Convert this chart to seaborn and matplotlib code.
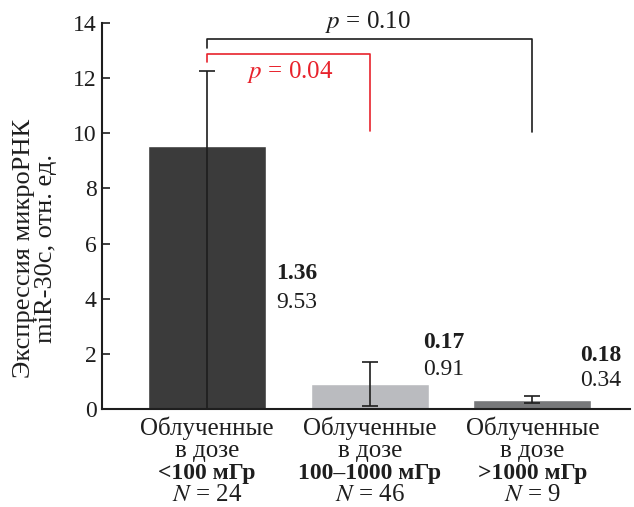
import matplotlib
matplotlib.use('Agg')
import matplotlib.pyplot as plt
import seaborn as sns
import pandas as pd

sns.set_theme(style='white')
plt.rcParams['font.family'] = ['Liberation Serif', 'DejaVu Serif']
plt.rcParams['mathtext.fontset'] = 'stix'

# data
groups = ['<100 мГр', '100–1000 мГр', '>1000 мГр']
means = [9.53, 0.91, 0.34]
medians = [1.36, 0.17, 0.18]
err_low = [9.53, 0.80, 0.13]
err_high = [2.73, 0.78, 0.13]
n_obs = [24, 46, 9]
colors = ['#3b3b3b', '#babbbf', '#77787a']
comparisons = [(0, 2, '0.10'), (0, 1, '0.04')]

df = pd.DataFrame({'group': groups, 'mean': means})

fig = plt.figure(figsize=(6.34, 5.07), dpi=100)
ax = fig.add_axes([102/634, 1 - 409/507, 528/634, 386/507])
sns.barplot(data=df, x='group', y='mean', hue='group', palette=colors,
            width=0.726, legend=False, ax=ax, saturation=1)
ax.errorbar(x=range(len(groups)), y=means, yerr=[err_low, err_high], fmt='none',
            ecolor='#1e1e1e', elinewidth=1.2, capsize=6, capthick=1.2, clip_on=False, zorder=3)

ax.set_xlim(-0.646, 2.6)
ax.set_ylim(0, 14)
ax.set_yticks(range(0, 15, 2))
ax.tick_params(axis='y', direction='in', length=6, width=1.2, labelsize=17, pad=4,
               colors='#1e1e1e', left=True)
ax.tick_params(axis='x', length=0, labelbottom=False)
ax.set_xlabel('')
sns.despine(ax=ax)
for s in ['left', 'bottom']:
    ax.spines[s].set_linewidth(1.5)
    ax.spines[s].set_color('#1e1e1e')

ax.set_ylabel('Экспрессия микроРНК\nmiR-30c, отн. ед.', fontsize=19, color='#1e1e1e',
              linespacing=1.0)
ax.yaxis.set_label_coords(-0.085, 0.417)

# x labels, four lines each
line_off = [-13.5, -30.0, -46.3, -62.0]
for i, g in enumerate(groups):
    lines = [('Облученные', 'normal', 18), ('в дозе', 'normal', 18), (g, 'bold', 17),
             (f'$N$ = {n_obs[i]}', 'normal', 18)]
    for (txt, w, fs), off in zip(lines, line_off):
        ax.annotate(txt, xy=(i, 0), xycoords=('data', 'axes fraction'),
                    xytext=(0, off), textcoords='offset points', ha='center', va='center',
                    fontsize=fs, fontweight=w, color='#1e1e1e', annotation_clip=False)

# value labels
lab_dx = [0.425, 0.33, 0.295]
lab_y1 = [4.92, 2.42, 1.94]
lab_y2 = [3.85, 1.43, 1.03]
for i in range(len(groups)):
    ax.text(i + lab_dx[i], lab_y1[i], f'{medians[i]:.2f}', fontsize=17, fontweight='bold',
            ha='left', va='center', color='#1e1e1e')
    ax.text(i + lab_dx[i], lab_y2[i], f'{means[i]:.2f}', fontsize=17,
            ha='left', va='center', color='#1e1e1e')

# significance brackets
br_top = [13.42, 12.88]
br_left = [13.09, 12.59]
br_right = [10.05, 10.08]
br_col = ['#1e1e1e', '#e8222c']
txt_pos = [(0.99, 14.03), (0.51, 12.22)]
for k, (a, b, p) in enumerate(comparisons):
    ax.plot([a, a, b, b], [br_left[k], br_top[k], br_top[k], br_right[k]],
            color=br_col[k], lw=1.2, clip_on=False)
    ax.text(txt_pos[k][0], txt_pos[k][1], f'$p$ = {p}', color=br_col[k], fontsize=18,
            ha='center', va='center')

fig.savefig('out.png', dpi=100)
